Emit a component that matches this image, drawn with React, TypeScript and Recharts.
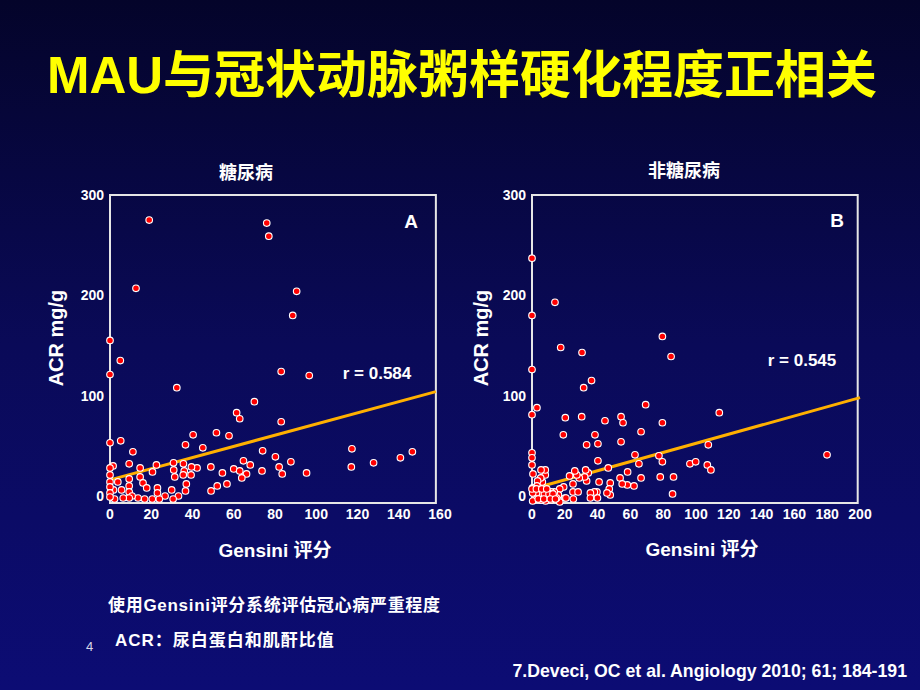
import React from 'react';
import { ScatterChart, Scatter, XAxis, YAxis, ReferenceArea, ReferenceLine } from 'recharts';

const FONT = "'Liberation Sans', Arial, 'Noto Sans CJK SC', sans-serif";

// Gensini score vs ACR (mg/g), diabetic group
const diabeticPoints: [number, number][] = [
  [19, 275], [76, 272], [77, 259], [12.6, 207], [90.5, 204], [88.6, 180], [0, 155], [5, 135],
  [0, 121], [83, 124], [96.6, 120], [32.4, 108], [70, 94], [61.4, 83], [62.9, 77], [83, 74],
  [51.6, 63], [57.7, 60], [40.3, 61], [0, 53], [5.2, 55], [36.6, 51], [45, 48], [11.1, 44],
  [74, 45], [80.2, 39], [87.7, 34], [117.3, 47], [146.6, 44], [140.8, 38], [127.8, 33], [117, 29],
  [95.3, 23], [64.7, 35], [68, 31], [82, 29], [83.5, 22], [73.7, 25], [60, 27], [62.9, 25],
  [66.2, 22], [63.9, 18], [48.9, 29], [42.2, 28], [39.5, 29], [39.3, 21], [35.6, 32], [36, 25],
  [35.5, 21], [30.8, 33], [30.9, 26], [31.4, 19], [54.5, 23], [56.7, 12], [52, 10], [49, 5],
  [37, 12], [36.6, 5], [33.2, 0], [29.9, 6], [30.6, -3], [26.7, 0], [23.9, -3], [23, 8],
  [23, 3], [22.5, 31], [20.6, 24], [20.5, -3], [14.6, 28], [14.6, 19], [16, 13], [17.8, 8],
  [16.8, -3], [13.6, -2], [9.3, 32], [9.3, 17], [9.3, 10], [9.3, 4], [10.7, 0], [9.3, -2],
  [6.4, -2], [5.6, 6], [3.8, 14], [2.2, -3], [1.7, 6], [1.5, 30], [0, 28], [0, 21],
  [0, 14], [0, 9], [0, 3], [0, -1],
];

// Gensini score vs ACR (mg/g), non-diabetic group
const nonDiabeticPoints: [number, number][] = [
  [0, 237], [14, 193], [0, 180], [0, 126], [17.5, 148], [30.5, 143], [79.5, 159], [84.8, 139],
  [36.3, 115], [31.5, 108], [0, 81], [3, 88], [20.3, 78], [30.3, 79], [44.5, 75], [54.3, 79],
  [55.5, 73], [69.3, 91], [79.5, 73], [114.2, 83], [19.1, 61], [38.4, 61], [66.5, 64], [33.3, 51],
  [40.2, 52], [54.3, 54], [0, 43], [0, 38], [0, 31], [0.6, 22], [40.2, 35], [62.8, 41],
  [65.2, 32], [77.4, 40], [79.5, 34], [96.3, 32], [99.8, 34], [107.5, 51], [106.9, 31], [109.1, 26],
  [179.9, 41], [78.2, 19], [86.3, 19], [85.7, 2], [66.5, 18], [58.3, 24], [62.2, 10], [58.1, 11],
  [53.7, 18], [55, 12], [46.5, 28], [47.7, 13], [47.1, 7], [47.7, 1], [45.7, 3], [40.9, 14],
  [39.6, 4], [39.9, -2], [38, 4], [35.6, 3], [35.6, -2], [33.3, 15], [34.3, 23], [32.7, 26],
  [32.1, 19], [28.8, 18], [27.3, 21], [26.1, 25], [22.9, 20], [25, 12], [25, 4], [28.1, 4],
  [25.2, -3], [20.1, -2], [19.3, 9], [16.9, 7], [16.1, 1], [16.9, -6], [15, -2], [13.6, 4],
  [11.6, 4], [11.6, -4], [10, 3], [8.3, -5], [8.1, 21], [8.1, 26], [5.5, 26], [6.3, 14],
  [5.3, 18], [3.4, 15], [3, 10], [5.6, 3], [5.6, -4], [2.7, 3], [2.7, -3], [0.4, -5],
  [0.4, 3], [0.4, 8], [7.6, 2], [10.4, 2], [12.8, 2], [3.8, -3], [7.2, -3], [11.2, -3],
  [14.3, -3], [0, 7], [2.7, 7], [6, 7], [9, 7], [20.7, -2],
];

// regression lines (start, end)
const diabeticFit: [number, number][] = [[0, 16], [158, 104]];
const nonDiabeticFit: [number, number][] = [[0, 7], [200, 98]];

const diabeticXTicks = [0, 20, 40, 60, 80, 100, 120, 140, 160];
const nonDiabeticXTicks = [0, 20, 40, 60, 80, 100, 120, 140, 160, 180, 200];
const acrTicks = [0, 100, 200, 300];

const tickStyle = { fill: '#ffffff', fontSize: 14, fontWeight: 700, fontFamily: FONT };

const Dot = (props: any) => (
  <circle cx={props.cx} cy={props.cy} r={3.3} fill="#ff0000" stroke="#ffffff" strokeWidth={1.1} />
);

interface PanelProps {
  points: [number, number][];
  fit: [number, number][];
  xTicks: number[];
  xMax: number;
  boxRight: number;
  left: number;
  margin: { top: number; right: number; bottom: number; left: number };
}

const Panel: React.FC<PanelProps> = ({ points, fit, xTicks, xMax, boxRight, left, margin }) => {
  const data = points.map(([x, y]) => ({ x, y }));
  return (
    <div style={{ position: 'absolute', left, top: 0 }}>
      <ScatterChart width={460} height={580} margin={margin}>
        <XAxis
          type="number"
          dataKey="x"
          domain={[0, xMax]}
          ticks={xTicks}
          interval={0}
          axisLine={false}
          tickLine={false}
          tickSize={0}
          tickMargin={6}
          height={30}
          tick={tickStyle}
        />
        <YAxis
          type="number"
          dataKey="y"
          domain={[-7, 300]}
          ticks={acrTicks}
          interval={0}
          axisLine={false}
          tickLine={false}
          tickSize={0}
          tickMargin={6}
          width={40}
          tick={tickStyle}
        />
        <ReferenceArea x1={0} x2={boxRight} y1={-7} y2={300} fill="none" fillOpacity={0} stroke="#e6e6e6" strokeWidth={2} />
        <ReferenceLine
          segment={[{ x: fit[0][0], y: fit[0][1] }, { x: fit[1][0], y: fit[1][1] }]}
          stroke="#ffb000"
          strokeWidth={3}
        />
        <Scatter data={data} shape={Dot} isAnimationActive={false} />
      </ScatterChart>
    </div>
  );
};

const Text: React.FC<{ x: number; y: number; style?: React.CSSProperties; rotate?: boolean; children: React.ReactNode }> = ({ x, y, style, rotate, children }) => (
  <div
    style={{
      position: 'absolute',
      left: x,
      top: y,
      transform: `translate(-50%, -50%)${rotate ? ' rotate(-90deg)' : ''}`,
      whiteSpace: 'nowrap',
      color: '#ffffff',
      fontWeight: 700,
      fontFamily: FONT,
      lineHeight: 1,
      ...style,
    }}
  >
    {children}
  </div>
);

export default function App() {
  return (
    <div
      style={{
        position: 'absolute',
        left: 0,
        top: 0,
        width: 920,
        height: 690,
        overflow: 'hidden',
        background: 'linear-gradient(180deg, #04042a 0%, #0a0a58 50%, #0c0c74 100%)',
        fontFamily: FONT,
      }}
    >
      <Text x={462} y={75} style={{ color: '#ffff00', fontSize: 51 }}>
        MAU与冠状动脉粥样硬化程度正相关
      </Text>

      <Panel
        points={diabeticPoints}
        fit={diabeticFit}
        xTicks={diabeticXTicks}
        xMax={160}
        boxRight={158}
        left={0}
        margin={{ top: 195, right: 20, bottom: 47, left: 70 }}
      />
      <Panel
        points={nonDiabeticPoints}
        fit={nonDiabeticFit}
        xTicks={nonDiabeticXTicks}
        xMax={200}
        boxRight={198.6}
        left={460}
        margin={{ top: 195, right: 60, bottom: 47, left: 32 }}
      />

      <Text x={246} y={173} style={{ fontSize: 18 }}>糖尿病</Text>
      <Text x={684} y={171} style={{ fontSize: 18 }}>非糖尿病</Text>

      <Text x={56} y={338} rotate style={{ fontSize: 20 }}>ACR mg/g</Text>
      <Text x={481} y={338} rotate style={{ fontSize: 20 }}>ACR mg/g</Text>

      <Text x={275} y={550} style={{ fontSize: 19 }}>Gensini 评分</Text>
      <Text x={702} y={549} style={{ fontSize: 19 }}>Gensini 评分</Text>

      <Text x={411} y={221} style={{ fontSize: 19 }}>A</Text>
      <Text x={837} y={220} style={{ fontSize: 19 }}>B</Text>
      <Text x={377} y={373} style={{ fontSize: 17 }}>r = 0.584</Text>
      <Text x={802} y={360} style={{ fontSize: 17 }}>r = 0.545</Text>

      <div style={{ position: 'absolute', left: 108, top: 605, transform: 'translateY(-50%)', color: '#fff', fontWeight: 700, fontSize: 17, letterSpacing: 0.7, whiteSpace: 'nowrap', lineHeight: 1 }}>
        使用Gensini评分系统评估冠心病严重程度
      </div>
      <div style={{ position: 'absolute', left: 115, top: 640, transform: 'translateY(-50%)', color: '#fff', fontWeight: 700, fontSize: 17, letterSpacing: 1, whiteSpace: 'nowrap', lineHeight: 1 }}>
        ACR：尿白蛋白和肌酐比值
      </div>
      <div style={{ position: 'absolute', left: 86, top: 646, transform: 'translateY(-50%)', color: '#d8d8e8', fontSize: 13, lineHeight: 1 }}>
        4
      </div>
      <div style={{ position: 'absolute', right: 13, top: 672, transform: 'translateY(-50%)', color: '#fff', fontWeight: 700, fontSize: 17.7, whiteSpace: 'nowrap', lineHeight: 1 }}>
        7.Deveci, OC et al. Angiology 2010; 61; 184-191
      </div>
    </div>
  );
}
